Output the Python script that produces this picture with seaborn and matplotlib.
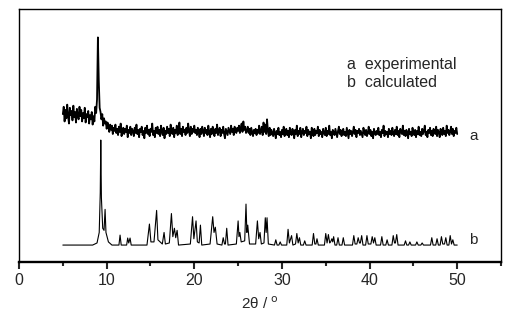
import numpy as np
import pandas as pd
import seaborn as sns
import matplotlib.pyplot as plt

# experimental pattern, 2theta 5..50 in 0.1 deg steps (one row per degree)
exp_2theta = np.round(np.arange(5.0, 50.01, 0.1), 1)
exp_int = [
    38, 45, 31, 42, 34, 47, 36, 29, 44, 37,
    41, 32, 46, 35, 40, 30, 43, 37, 33, 45,
    36, 42, 31, 39, 34, 44, 30, 38, 35, 41,
    29, 37, 33, 40, 28, 36, 31, 45, 39, 52,
    111, 70, 44, 40, 33, 38, 27, 34, 29, 31,
    24, 30, 26, 21, 28, 23, 27, 19, 25, 22,
    28, 20, 24, 18, 26, 21, 29, 17, 23, 25,
    19, 24, 21, 27, 16, 23, 20, 26, 18, 24,
    22, 17, 25, 20, 28, 19, 23, 16, 24, 21,
    26, 18, 22, 15, 25, 20, 27, 19, 23, 17,
    24, 21, 29, 18, 22, 16, 25, 20, 26, 19,
    23, 17, 27, 21, 18, 25, 15, 22, 19, 26,
    20, 24, 17, 28, 21, 19, 25, 16, 23, 20,
    27, 18, 22, 30, 19, 24, 17, 26, 21, 23,
    18, 25, 20, 29, 22, 17, 26, 19, 24, 21,
    27, 20, 23, 18, 25, 21, 16, 24, 19, 26,
    22, 17, 25, 20, 23, 18, 27, 21, 16, 24,
    19, 26, 21, 17, 24, 20, 28, 18, 22, 25,
    17, 23, 20, 26, 19, 15, 24, 21, 18, 25,
    22, 19, 27, 21, 24, 18, 26, 22, 20, 25,
    22, 27, 20, 25, 29, 21, 31, 23, 26, 20,
    22, 26, 20, 24, 18, 25, 21, 17, 23, 20,
    24, 18, 23, 20, 27, 19, 22, 26, 18, 30,
    21, 28, 19, 33, 22, 17, 25, 18, 23, 20,
    17, 24, 20, 15, 22, 19, 25, 18, 21, 16,
    23, 19, 26, 17, 21, 24, 18, 22, 16, 25,
    20, 18, 24, 21, 15, 23, 19, 27, 17, 22,
    19, 25, 16, 21, 24, 18, 22, 20, 26, 17,
    23, 19, 21, 15, 25, 20, 17, 24, 18, 22,
    20, 26, 17, 23, 19, 21, 16, 24, 20, 18,
    25, 17, 22, 19, 27, 18, 21, 15, 23, 20,
    18, 24, 20, 16, 22, 26, 19, 23, 17, 21,
    24, 18, 21, 17, 25, 20, 15, 23, 19, 22,
    17, 21, 26, 19, 23, 16, 22, 20, 24, 18,
    22, 19, 16, 25, 21, 18, 23, 17, 20, 26,
    19, 23, 17, 21, 15, 24, 20, 18, 22, 19,
    25, 18, 21, 16, 23, 20, 27, 17, 22, 19,
    21, 16, 24, 19, 22, 18, 25, 20, 17, 23,
    19, 26, 18, 22, 16, 24, 21, 19, 27, 18,
    22, 17, 23, 20, 15, 24, 19, 21, 17, 25,
    20, 18, 23, 16, 22, 19, 26, 18, 21, 17,
    24, 19, 22, 27, 18, 21, 16, 23, 20, 25,
    18, 22, 17, 24, 20, 19, 26, 17, 23, 21,
    16, 24, 20, 18, 25, 19, 22, 17, 27, 20,
    23, 18, 21, 26, 19, 24, 17, 22, 20, 25,
    19,
]

# calculated pattern outline (2theta, relative intensity)
calc_points = [
    (5.0, 0), (8.4, 0), (8.9, 2), (9.15, 12), (9.27, 50), (9.33, 100), (9.4, 45),
    (9.55, 16), (9.7, 14), (9.82, 34), (9.92, 12), (10.2, 3), (10.6, 0),
    (11.4, 0), (11.53, 9.5), (11.66, 0),
    (12.28, 0), (12.4, 6.7), (12.52, 2), (12.67, 6.7), (12.8, 0),
    (14.6, 0), (14.88, 20), (15.05, 3), (15.4, 3), (15.7, 33), (15.85, 5),
    (16.35, 1), (16.55, 12), (16.7, 1),
    (17.15, 2), (17.39, 30), (17.55, 8), (17.73, 16), (17.88, 7), (18.04, 14), (18.2, 0),
    (19.55, 1), (19.8, 27), (19.95, 6), (20.2, 23), (20.35, 3), (20.55, 2), (20.7, 19), (20.85, 0),
    (21.8, 1), (22.1, 27), (22.25, 12), (22.4, 17), (22.6, 1),
    (23.15, 0), (23.3, 7), (23.45, 1), (23.55, 1), (23.7, 16), (23.85, 0),
    (24.8, 1), (25.0, 23), (25.1, 8), (25.2, 12), (25.35, 3), (25.75, 4), (25.9, 39),
    (26.0, 12), (26.1, 19), (26.3, 1),
    (27.0, 1), (27.2, 23), (27.35, 6), (27.5, 12), (27.65, 1),
    (27.95, 2), (28.1, 26), (28.2, 12), (28.3, 26), (28.45, 1),
    (29.15, 0), (29.3, 5), (29.45, 0), (29.65, 0), (29.8, 3), (29.95, 0),
    (30.55, 0), (30.7, 15), (30.85, 2), (31.1, 9), (31.25, 0),
    (31.55, 1), (31.7, 11), (31.85, 2), (32.0, 7), (32.15, 0),
    (32.45, 0), (32.6, 4), (32.75, 0),
    (33.45, 0), (33.6, 11), (33.75, 1), (33.88, 1), (34.0, 6), (34.15, 0),
    (34.85, 0), (35.0, 11), (35.15, 2), (35.3, 10), (35.45, 2), (35.55, 3), (35.7, 6),
    (35.8, 3), (35.9, 8), (36.05, 0),
    (36.25, 0), (36.4, 7), (36.55, 0),
    (36.85, 0), (37.0, 7), (37.15, 0),
    (38.05, 0), (38.2, 9), (38.35, 1), (38.55, 1), (38.7, 7), (38.85, 2), (38.95, 2),
    (39.1, 9), (39.25, 0),
    (39.55, 0), (39.7, 9), (39.85, 1), (40.15, 1), (40.3, 8), (40.45, 2), (40.6, 7), (40.75, 0),
    (41.25, 0), (41.4, 8), (41.55, 0),
    (41.85, 0), (42.0, 5), (42.15, 0),
    (42.55, 0), (42.7, 9), (42.85, 2), (42.95, 2), (43.1, 10), (43.25, 0),
    (43.95, 0), (44.1, 4), (44.25, 0),
    (44.45, 0), (44.6, 3), (44.75, 0),
    (45.25, 0), (45.4, 3), (45.55, 0),
    (45.85, 0), (46.0, 2), (46.15, 0),
    (46.95, 0), (47.1, 7), (47.25, 0),
    (47.55, 0), (47.7, 6), (47.85, 0),
    (48.05, 0), (48.2, 8), (48.35, 1), (48.55, 1), (48.7, 7), (48.85, 0),
    (49.05, 0), (49.2, 9), (49.35, 1), (49.5, 5), (49.65, 0), (50.0, 0),
]
calc_2theta = [p[0] for p in calc_points]
calc_int = [p[1] for p in calc_points]

exp_offset = 86.7
legend_lines = ["a  experimental", "b  calculated"]

sns.set_style("ticks")
plt.rcParams['font.family'] = ['Liberation Sans', 'DejaVu Sans']

fig = plt.figure(figsize=(5.17, 3.2), dpi=100)
ax = fig.add_axes([0.0368, 0.181, 0.9323, 0.791])

df_exp = pd.DataFrame({'x': exp_2theta, 'y': np.array(exp_int) + exp_offset})
df_calc = pd.DataFrame({'x': calc_2theta, 'y': calc_int})
sns.lineplot(data=df_exp, x='x', y='y', ax=ax, color='black', lw=1.3,
             sort=False, estimator=None)
sns.lineplot(data=df_calc, x='x', y='y', ax=ax, color='black', lw=0.8,
             sort=False, estimator=None)

ax.set_xlim(0, 55)
ax.set_ylim(-16.2, 224.8)
ax.set_xticks(range(0, 51, 10))
ax.set_xticks(range(5, 56, 10), minor=True)
ax.set_yticks([])
ax.tick_params(axis='x', which='major', direction='out', length=5, width=1.5,
               labelsize=11.5, pad=3)
ax.tick_params(axis='x', which='minor', direction='out', length=3, width=1.5)
for s in ax.spines.values():
    s.set_linewidth(1.0)
    s.set_color('black')
ax.spines['bottom'].set_linewidth(1.7)

ax.set_xlabel(r'2θ / $^{\rm o}$', fontsize=11, labelpad=5)
ax.set_ylabel('')

ax.text(0.68, 0.779, legend_lines[0], transform=ax.transAxes, fontsize=11.5, va='center')
ax.text(0.68, 0.711, legend_lines[1], transform=ax.transAxes, fontsize=11.5, va='center')
ax.text(51.4, 103.8, 'a', fontsize=11, va='center')
ax.text(51.4, 4.8, 'b', fontsize=11, va='center')

fig.savefig('out.png', dpi=100)
